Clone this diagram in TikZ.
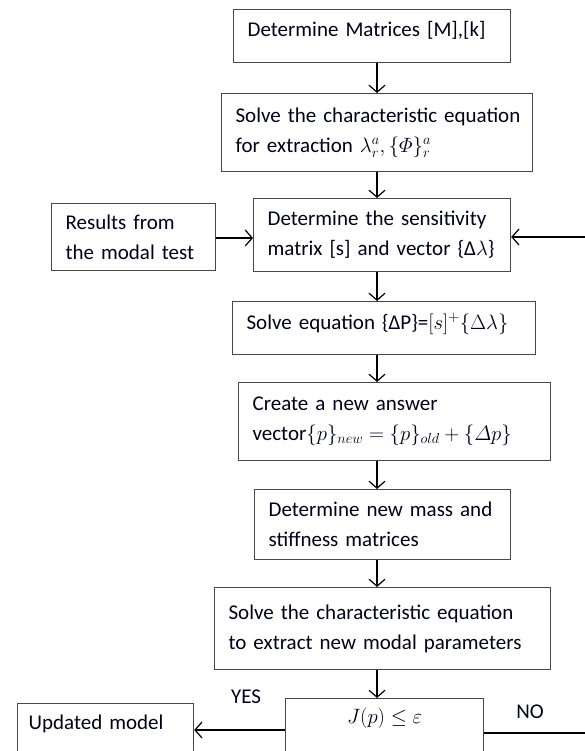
\documentclass[tikz,border=0pt]{standalone}
\usepackage{amsmath}
\usepackage{fontspec}
\setmainfont{Carlito}
\usetikzlibrary{arrows.meta,positioning}
\begin{document}
\begin{tikzpicture}[x=1pt,y=-1pt,
  box/.style={draw=black!72, line width=1.2pt, rectangle, anchor=north west,
    align=left, inner xsep=14pt, inner ysep=0pt, font=\fontsize{21}{30}\selectfont,
    text=black!90!blue},
  arr/.style={draw=black, line width=1.2pt, -{Straight Barb[length=7pt,width=16pt,line width=1.2pt]}},
  lab/.style={font=\fontsize{21}{24}\selectfont, text=black!90!blue}
]
\useasboundingbox (0,0) rectangle (585,751);
\clip (0,0) rectangle (585,751);
\coordinate (sp) at (377,0);

\node[box, minimum width=277pt, minimum height=53pt, text width=249pt,
  text height=15pt, text depth=14pt] (b1) at (233,9)
  {\mbox{Determine Matrices [M],[k]}};
\node[box, minimum width=311pt, minimum height=78pt, text width=283pt] (b2) at (221,93)
  {\mbox{Solve the characteristic equation}\\ \mbox{for extraction $\lambda_r^{a}, \{\varPhi\}_r^{a}$}};
\node[box, minimum width=257pt, minimum height=73pt, text width=229pt] (b3) at (253,198)
  {\mbox{Determine the sensitivity}\\ \mbox{matrix [s] and vector \{Δ$\lambda$\}}};
\node[box, minimum width=164pt, minimum height=67pt, text width=136pt] (res) at (51,203)
  {\mbox{Results from}\\ \mbox{the modal test}};
\node[box, minimum width=303pt, minimum height=53pt, text width=275pt,
  text height=15pt, text depth=13pt] (b4) at (232,301)
  {\mbox{Solve equation \{ΔP\}=$[s]^{+}\{\Delta\lambda\}$}};
\node[box, minimum width=312pt, minimum height=78pt, text width=284pt] (b5) at (238,382)
  {\mbox{Create a new answer}\\ \mbox{vector$\{p\}_{new}=\{p\}_{old}+\{\varDelta p\}$}};
\node[box, minimum width=256pt, minimum height=70pt, text width=228pt] (b6) at (254,489)
  {\mbox{Determine new mass and}\\ \mbox{stiffness matrices}};
\node[box, minimum width=336pt, minimum height=82pt, text width=308pt] (b7) at (214,587)
  {\mbox{Solve the characteristic equation}\\ \mbox{to extract new modal parameters}};
\node[box, minimum width=198pt, align=center, inner ysep=10pt,
  text height=15pt, text depth=45pt] (j) at (285,698) {$J(p)\le\varepsilon$};
\node[box, minimum width=176pt, text width=154pt, inner xsep=11pt, inner ysep=11pt,
  text height=15pt, text depth=45pt] (upd) at (17,703) {Updated model};

\node[lab] (yes) at (246,697) {YES};
\node[lab] (no) at (530,712) {NO};

\coordinate (r1) at (585,237);
\coordinate (r2) at (585,733);

\draw[arr] (b1.south -| sp) -- (b2.north -| sp);
\draw[arr] (b2.south -| sp) -- (b3.north -| sp);
\draw[arr] (b3.south -| sp) -- (b4.north -| sp);
\draw[arr] (b4.south -| sp) -- (b5.north -| sp);
\draw[arr] (b5.south -| sp) -- (b6.north -| sp);
\draw[arr] (b6.south -| sp) -- (b7.north -| sp);
\draw[arr] (b7.south -| sp) -- (j.north -| sp);
\draw[arr] (res.east |- 0,238) -- (b3.west |- 0,238);
\draw[arr] (r1) -- (b3.east |- r1);
\draw[arr] (j.west |- 0,730) -- (upd.east |- 0,730);
\draw[draw=black, line width=1.2pt] (j.east |- r2) -- (r2);
\end{tikzpicture}
\end{document}
